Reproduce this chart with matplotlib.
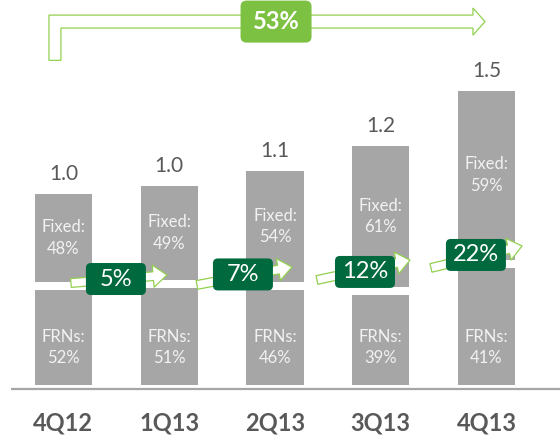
import matplotlib
matplotlib.use("Agg")
import matplotlib.pyplot as plt
import matplotlib.patches as mpatches
import matplotlib.transforms as mtransforms

plt.rcParams['font.family'] = ['Lato', 'DejaVu Sans']

# ---- data ----
categories = ["4Q12", "1Q13", "2Q13", "3Q13", "4Q13"]
totals = [0.96, 1.00, 1.08, 1.21, 1.50]
fixed_pct = [48, 49, 54, 61, 59]
frn_pct = [52, 51, 46, 39, 41]
growth_labels = ["5%", "7%", "12%", "22%"]
total_growth_label = "53%"

# ---- layout / style ----
BAR_GREY = "#A6A6A6"
TXT_GREY = "#595959"
LIGHT_TXT = "#F2F2F2"
DARK_GREEN = "#006A3E"
LIGHT_GREEN = "#7DC142"
OUTLINE_GREEN = "#92D050"
GAP = 0.042
BAR_W = 0.54

arrow_tails = [(0.071, 0.534), (1.262, 0.524), (2.397, 0.550), (3.475, 0.613)]
arrow_tips = [(0.979, 0.576), (2.161, 0.618), (3.277, 0.654), (4.336, 0.728)]
box_centers = [(0.496, 0.555), (1.697, 0.579), (2.851, 0.592), (3.900, 0.681)]

fig = plt.figure(figsize=(5.6, 4.36), dpi=100)
ax = fig.add_axes([0, 0, 1, 1])
ax.set_xlim(-0.600, 4.695)
ax.set_ylim(-0.267, 2.016)
ax.axis('off')

x = list(range(len(categories)))
frn_h = [t * p / 100 for t, p in zip(totals, frn_pct)]
fix_h = [t * p / 100 for t, p in zip(totals, fixed_pct)]
fix_bottom = [f + GAP for f in frn_h]

ax.bar(x, frn_h, width=BAR_W, color=BAR_GREY, zorder=1)
ax.bar(x, fix_h, bottom=fix_bottom, width=BAR_W, color=BAR_GREY, zorder=1)

# baseline
ax.plot([-0.5, 4.8], [-0.021, -0.021], color=BAR_GREY, lw=1.6, solid_capstyle='butt', zorder=1)

for i in x:
    top = fix_bottom[i] + fix_h[i]
    ax.annotate(f"{totals[i]:.1f}", (i, top), xytext=(0, 10), textcoords='offset points',
                ha='center', va='baseline', fontsize=15, color=TXT_GREY)
    cy = fix_bottom[i] + fix_h[i] / 2
    ax.text(i, cy + 0.057, "Fixed:", ha='center', va='center', fontsize=12, color=LIGHT_TXT, zorder=2)
    ax.text(i, cy - 0.057, f"{fixed_pct[i]}%", ha='center', va='center', fontsize=12, color=LIGHT_TXT, zorder=2)
    ax.text(i, 0.253, "FRNs:", ha='center', va='center', fontsize=12, color=LIGHT_TXT, zorder=2)
    ax.text(i, 0.141, f"{frn_pct[i]}%", ha='center', va='center', fontsize=12, color=LIGHT_TXT, zorder=2)
    ax.text(i, -0.199, categories[i], ha='center', va='center', fontsize=17, fontweight='bold', color=TXT_GREY)


def rounded_box(cx, cy, w_px, h_px, r_px, color, z):
    # box sized in pixels, anchored at a data point
    trans = mtransforms.Affine2D().scale(1 / 100.0) + fig.dpi_scale_trans + \
        mtransforms.ScaledTranslation(cx, cy, ax.transData)
    p = mpatches.FancyBboxPatch((-w_px / 2, -h_px / 2), w_px, h_px,
                                boxstyle=f"round,pad=0,rounding_size={r_px}",
                                fc=color, ec='none', transform=trans, zorder=z)
    ax.add_patch(p)


# growth arrows + boxes
style = mpatches.ArrowStyle.Simple(head_length=10, head_width=16, tail_width=6.3)
for (tx, ty), (hx, hy), (bx, by), lab in zip(arrow_tails, arrow_tips, box_centers, growth_labels):
    arr = mpatches.FancyArrowPatch((tx, ty), (hx, hy), arrowstyle=style, mutation_scale=1,
                                   fc='white', ec=OUTLINE_GREEN, lw=0.9, shrinkA=0, shrinkB=0, zorder=3)
    ax.add_patch(arr)
    rounded_box(bx, by, 60, 32, 5, DARK_GREEN, 4)
    ax.text(bx, by, lab, ha='center', va='center', fontsize=17, color='white', zorder=5)

# bent top arrow
xl = x[0] - 0.137
xv = x[0] - 0.024
xh = x[-1] - 0.128
xt = x[-1] - 0.014
yb = 1.70
ys_top = 1.937
ys_bot = 1.869
yh_top = 1.974
yh_bot = 1.832
ymid = (ys_top + ys_bot) / 2
poly = [(xl, yb), (xl, ys_top), (xh, ys_top), (xh, yh_top), (xt, ymid),
        (xh, yh_bot), (xh, ys_bot), (xv, ys_bot), (xv, yb)]
ax.add_patch(mpatches.Polygon(poly, closed=True, fc='white', ec=OUTLINE_GREEN, lw=0.9, zorder=3))
rounded_box(2.01, ymid, 71, 42, 6, LIGHT_GREEN, 4)
ax.text(2.01, ymid, total_growth_label, ha='center', va='center', fontsize=17,
        fontweight='bold', color='white', zorder=5)

fig.savefig("out.png", dpi=100)
